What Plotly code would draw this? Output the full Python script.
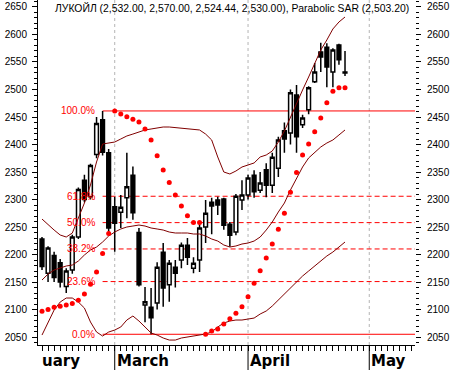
import plotly.graph_objects as go

# ---------------- data (trading-day index 0..50) ----------------
open_ = [2228, 2166, 2198, 2185, 2142, 2172, 2232, 2335, 2305, 2382,
         2445, 2385, 2287, 2277, 2303, 2344, 2240, 2108, 2104, 2112,
         2204, 2145, 2177, 2190, 2217, 2175, 2190, 2250, 2295, 2299,
         2301, 2255, 2241, 2299, 2308, 2344, 2317, 2354, 2326, 2357,
         2425, 2421, 2490, 2436, 2463, 2514, 2568, 2577, 2532, 2581,
         2532.00]
high = [2232, 2215, 2205, 2192, 2175, 2236, 2322, 2345, 2365, 2450,
        2461, 2392, 2305, 2308, 2385, 2360, 2248, 2141, 2139, 2186,
        2221, 2190, 2190, 2222, 2230, 2195, 2257, 2299, 2303, 2305,
        2303, 2259, 2310, 2335, 2345, 2353, 2350, 2366, 2385, 2414,
        2440, 2500, 2508, 2454, 2506, 2548, 2585, 2584, 2575, 2583,
        2570.00]
low = [2172, 2150, 2150, 2140, 2130, 2165, 2228, 2295, 2300, 2375,
       2380, 2240, 2205, 2248, 2266, 2263, 2142, 2077, 2055, 2100,
       2105, 2114, 2140, 2175, 2181, 2166, 2168, 2221, 2237, 2272,
       2245, 2214, 2235, 2281, 2300, 2303, 2312, 2304, 2312, 2341,
       2385, 2400, 2385, 2430, 2455, 2512, 2532, 2504, 2504, 2545,
       2524.44]
close = [2178, 2212, 2158, 2150, 2170, 2232, 2318, 2300, 2362, 2438,
         2386, 2248, 2257, 2286, 2323, 2276, 2145, 2114, 2085, 2177,
         2139, 2184, 2166, 2217, 2195, 2184, 2248, 2275, 2288, 2290,
         2253, 2235, 2306, 2308, 2339, 2314, 2330, 2326, 2377, 2408,
         2410, 2494, 2414, 2448, 2503, 2532, 2559, 2541, 2572, 2554,
         2530.00]
sar = [2097, 2100, 2104, 2106, 2108, 2111, 2117, 2128, 2146, 2168,
       2202, 2238,
       2461, 2455.5, 2450.5, 2446, 2441, 2428, 2408, 2379.6, 2353.6, 2331,
       2308, 2288, 2270.5, 2258, 2258,
       2055, 2061, 2064.5, 2073.6, 2083, 2093, 2105, 2123, 2147.6, 2170.5,
       2193.6, 2219, 2246, 2275, 2313, 2349, 2381, 2401, 2423, 2448,
       2476, 2497, 2503, 2503.20]
bb_upper = [2264.5, 2253.6, 2244.5, 2235.5, 2231.8, 2239, 2266.4, 2293.6, 2326.4, 2368.2,
            2400.9, 2402.7, 2404.5, 2410, 2415.5, 2419, 2422.7, 2426.4, 2428.2, 2430,
            2431.8, 2431.8, 2430.9, 2430, 2429.1, 2428.2, 2426.4, 2419, 2408.2, 2377.3,
            2350, 2346.4, 2351.8, 2359.1, 2362.7, 2366.4, 2377.3, 2380.9, 2388.2, 2404.5,
            2424.5, 2450, 2475.5, 2499.1, 2522.7, 2548.2, 2571.8, 2590, 2610, 2622.7,
            2631.8]
bb_middle = [2153.6, 2164.5, 2171.8, 2175.5, 2179.1, 2180.9, 2188.2, 2199.1, 2208.2, 2213.6,
             2222.7, 2233.6, 2240.9, 2246.4, 2250, 2251.8, 2253.6, 2251.8, 2248.2, 2246.4,
             2244.5, 2240.9, 2239.1, 2239.1, 2239.1, 2237.3, 2237.3, 2233.6, 2228.2, 2224.5,
             2217.3, 2213.6, 2215.5, 2219.1, 2220.9, 2224.5, 2231.8, 2244.5, 2259.1, 2277.3,
             2293.6, 2317.3, 2339.1, 2359.1, 2375.5, 2386.4, 2395.5, 2402.7, 2408.2, 2417.3,
             2426.4]
bb_lower = [2053.6, 2077.3, 2099.1, 2113.6, 2120.9, 2120.9, 2113.6, 2102.7, 2077.3, 2059.1,
            2051.8, 2059.1, 2062.7, 2068.2, 2080.9, 2088.2, 2079.1, 2068.2, 2057.3, 2053.6,
            2048.2, 2044.5, 2044.5, 2048.2, 2050, 2051.8, 2053.6, 2055.5, 2059.1, 2068.2,
            2075.5, 2079.1, 2080.9, 2080.9, 2082.7, 2084.5, 2091.8, 2097.3, 2106.4, 2117.3,
            2128.2, 2140.9, 2151.8, 2160.9, 2170, 2179.1, 2188.2, 2197.3, 2204.5, 2213.6,
            2222.7]

month_labels = ["March", "April", "May"]
month_start_idx = [12, 34, 54]
clipped_month_label = "uary"          # tail of "February", cut by the left edge
fib_ratios = [0.0, 23.6, 38.2, 50.0, 61.8, 100.0]
fib_high_idx = 10                      # swing high
fib_low_idx = 18                       # swing low
security = "ЛУКОЙЛ"

# ---------------- figure ----------------
idx = list(range(len(close)))
X_RANGE = [-0.66, 61.55]
Y_RANGE = [2035.5, 2662.7]
RED = "#FF0000"
BAND = "#800000"
FONT = "Liberation Sans, Arial, sans-serif"

fig = go.Figure()
fig.add_trace(go.Candlestick(
    x=idx, open=open_, high=high, low=low, close=close,
    increasing=dict(line=dict(color="black", width=1.5), fillcolor="white"),
    decreasing=dict(line=dict(color="black", width=1.5), fillcolor="black"),
    whiskerwidth=0, showlegend=False, name=security))
for band in (bb_upper, bb_middle, bb_lower):
    fig.add_trace(go.Scatter(x=idx, y=band, mode="lines", yaxis="y2",
                             line=dict(color=BAND, width=1), showlegend=False,
                             hoverinfo="skip"))
fig.add_trace(go.Scatter(x=idx, y=sar, mode="markers", yaxis="y2",
                         marker=dict(color=RED, size=5, symbol="circle", line=dict(width=0)),
                         showlegend=False, name="Parabolic SAR"))

shapes = []
annotations = []
# Fibonacci retracement
f_hi = high[fib_high_idx]
f_lo = low[fib_low_idx]
for r in fib_ratios:
    lvl = f_lo + r / 100.0 * (f_hi - f_lo)
    solid = r in (0.0, 100.0)
    shapes.append(dict(type="line", xref="x", yref="y", x0=fib_high_idx, x1=X_RANGE[1],
                       y0=lvl, y1=lvl, layer="below",
                       line=dict(color=RED, width=1, dash="solid" if solid else "5px,3px")))
    annotations.append(dict(xref="x", yref="y", x=fib_high_idx, y=lvl, text=f"{r:.1f}%",
                            xanchor="right", yanchor="middle", xshift=-6, showarrow=False,
                            font=dict(family=FONT, size=10, color=RED)))
# month gridlines, separators, labels
for m, name in zip(month_start_idx, month_labels):
    shapes.append(dict(type="line", xref="x", yref="paper", x0=m, x1=m, y0=0, y1=1,
                       layer="below", line=dict(color="#B4B4B4", width=1, dash="3px,3px")))
    shapes.append(dict(type="line", xref="x", yref="paper", x0=m, x1=m, y0=0, y1=-0.075,
                       line=dict(color="black", width=1)))
    annotations.append(dict(xref="x", yref="paper", x=m, y=-0.045, text=f"<b>{name}</b>",
                            xanchor="left", yanchor="middle", xshift=0, showarrow=False,
                            font=dict(family="DejaVu Sans", size=15, color="black")))
annotations.append(dict(xref="paper", yref="paper", x=0.005, y=-0.045,
                        text=f"<b>{clipped_month_label}</b>", xanchor="left", yanchor="middle",
                        showarrow=False, font=dict(family="DejaVu Sans", size=15, color="black")))
# title
title = (f"{security} ({open_[-1]:,.2f}, {high[-1]:,.2f}, {low[-1]:,.2f}, {close[-1]:,.2f}), "
         f"Parabolic SAR ({sar[-1]:,.2f})")
annotations.append(dict(xref="paper", yref="paper", x=0.04, y=0.977, text=title,
                        xanchor="left", yanchor="middle", showarrow=False,
                        font=dict(family=FONT, size=10.4, color="black")))

yaxis_common = dict(range=Y_RANGE, tick0=2050, dtick=50, ticks="outside", ticklen=5,
                    tickcolor="black", showgrid=False, zeroline=False, automargin=False,
                    tickfont=dict(family=FONT, size=10, color="black"),
                    minor=dict(dtick=10, ticks="outside", ticklen=3, tickcolor="black"))

fig.update_layout(
    template="none",
    width=453, height=370,
    margin=dict(l=38, r=38, t=0, b=25, pad=0),
    paper_bgcolor="white", plot_bgcolor="white",
    boxgap=0.12,
    shapes=shapes, annotations=annotations,
    xaxis=dict(range=X_RANGE, tickmode="linear", tick0=0, dtick=1, ticks="outside",
               ticklen=5, tickcolor="black", showticklabels=False, showgrid=False,
               zeroline=False, showline=True, linecolor="black", linewidth=1,
               automargin=False, rangeslider=dict(visible=False), fixedrange=True),
    yaxis=dict(**yaxis_common, side="left", showline=True, linecolor="black", linewidth=1,
               ticklabelstandoff=3),
    yaxis2=dict(**yaxis_common, side="right", overlaying="y", showline=False,
                ticklabelstandoff=4),
    showlegend=False,
)

fig.write_html("out.html", config={"displayModeBar": False},
               post_script="document.body.style.margin='0';")
